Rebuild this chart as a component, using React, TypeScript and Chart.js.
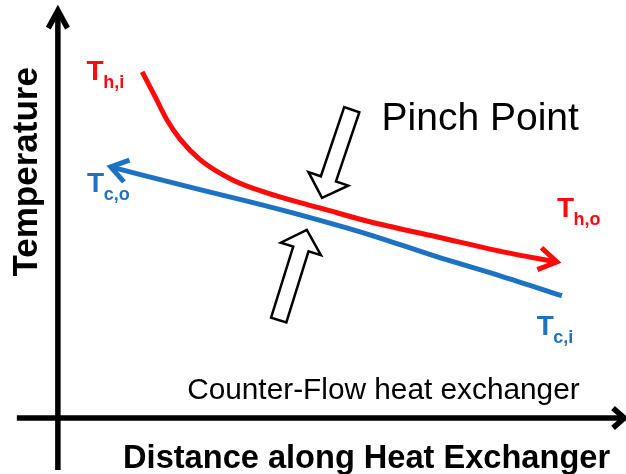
import React, { useEffect, useRef } from "react";
import { Chart, registerables } from "chart.js";

Chart.register(...registerables);

// ---- data (abstract units: distance 0..100, temperature 0..100) ----
const hotX = [15.0, 17.3, 19.4, 21.7, 25.3, 31.1, 37.2, 43.1, 46.6, 55.5, 67.4, 79.2, 88.8];
const hotY = [85.2, 79.1, 73.4, 68.7, 63.6, 58.6, 55.4, 53.0, 51.7, 48.3, 44.6, 40.9, 38.4];
const coldX = [9.4, 25.3, 34.2, 43.1, 55.5, 67.4, 78.7, 89.7];
const coldY = [61.8, 56.2, 53.2, 50.0, 45.1, 39.7, 35.0, 30.1];

// axis extents (data units)
const xAxisRange = [-7.3, 100.8];
const yAxisRange = [-12.8, 100.3];

// stream labels
const labelMain = ["T", "T", "T", "T"];
const labelSub = ["h,i", "c,o", "h,o", "c,i"];
const labelX = [5.1, 5.2, 88.8, 85.2];
const labelY = [83.3, 55.7, 49.5, 20.4];
const labelKind = ["hot", "cold", "hot", "cold"];

// pinch-point hollow arrows (tail -> tip)
const pinchTailX = [52.3, 39.3];
const pinchTailY = [75.9, 24.1];
const pinchTipX = [47.0, 44.3];
const pinchTipY = [54.2, 46.3];

// texts
const pinchText = "Pinch Point";
const pinchTextPos = [57.6, 70.9];
const subtitleText = "Counter-Flow heat exchanger";
const subtitlePos = [23.0, 4.7];
const xTitle = "Distance along Heat Exchanger";
const xTitlePos = [11.6, -12.3];
const yTitle = "Temperature";
const yTitlePos = [-3.8, 60.6];

const X_MIN = -10.3;
const X_MAX = 101.1;
const Y_MIN = -13.8;
const Y_MAX = 102.9;

const RED = "#ff0a0a";
const BLUE = "#1e72c2";
const FONT = "'Liberation Sans', Arial, Helvetica, sans-serif";

function chevron(ctx: CanvasRenderingContext2D, tx: number, ty: number, dx: number, dy: number, len: number, half: number) {
  const a = Math.atan2(dy, dx);
  ctx.beginPath();
  ctx.moveTo(tx - len * Math.cos(a - half), ty - len * Math.sin(a - half));
  ctx.lineTo(tx, ty);
  ctx.lineTo(tx - len * Math.cos(a + half), ty - len * Math.sin(a + half));
  ctx.stroke();
}

function hollowArrow(ctx: CanvasRenderingContext2D, x0: number, y0: number, x1: number, y1: number) {
  const shaftW = 16;
  const headW = 42;
  const headL = 20;
  const L = Math.hypot(x1 - x0, y1 - y0);
  const ux = (x1 - x0) / L;
  const uy = (y1 - y0) / L;
  const nx = -uy;
  const ny = ux;
  const bx = x1 - ux * headL;
  const by = y1 - uy * headL;
  ctx.beginPath();
  ctx.moveTo(x0 + nx * shaftW / 2, y0 + ny * shaftW / 2);
  ctx.lineTo(bx + nx * shaftW / 2, by + ny * shaftW / 2);
  ctx.lineTo(bx + nx * headW / 2, by + ny * headW / 2);
  ctx.lineTo(x1, y1);
  ctx.lineTo(bx - nx * headW / 2, by - ny * headW / 2);
  ctx.lineTo(bx - nx * shaftW / 2, by - ny * shaftW / 2);
  ctx.lineTo(x0 - nx * shaftW / 2, y0 - ny * shaftW / 2);
  ctx.closePath();
  ctx.fillStyle = "#ffffff";
  ctx.fill();
  ctx.lineWidth = 2.5;
  ctx.lineJoin = "miter";
  ctx.strokeStyle = "#000";
  ctx.stroke();
}

const diagramPlugin = {
  id: "diagram",
  afterDatasetsDraw(chart: any) {
    const ctx: CanvasRenderingContext2D = chart.ctx;
    const xs = chart.scales.x;
    const ys = chart.scales.y;
    const px = (v: number) => xs.getPixelForValue(v);
    const py = (v: number) => ys.getPixelForValue(v);
    ctx.save();

    // axes
    const ox = px(0);
    const oy = py(0);
    ctx.strokeStyle = "#000";
    ctx.lineWidth = 5.5;
    ctx.lineCap = "butt";
    ctx.lineJoin = "miter";
    ctx.beginPath();
    ctx.moveTo(px(xAxisRange[0]), oy);
    ctx.lineTo(px(xAxisRange[1]), oy);
    ctx.moveTo(ox, py(yAxisRange[0]));
    ctx.lineTo(ox, py(yAxisRange[1]));
    ctx.stroke();
    chevron(ctx, px(xAxisRange[1]), oy, 1, 0, 15, 0.72);
    chevron(ctx, ox, py(yAxisRange[1]), 0, -1, 20, 0.5);

    // line arrowheads
    const hot = chart.getDatasetMeta(0).data;
    const cold = chart.getDatasetMeta(1).data;
    ctx.lineWidth = 5;
    ctx.strokeStyle = RED;
    const hn = hot.length;
    chevron(ctx, hot[hn - 1].x, hot[hn - 1].y, hot[hn - 1].x - hot[hn - 2].x, hot[hn - 1].y - hot[hn - 2].y, 21, 0.56);
    ctx.strokeStyle = BLUE;
    chevron(ctx, cold[0].x, cold[0].y, cold[0].x - cold[1].x, cold[0].y - cold[1].y, 20, 0.6);

    // pinch arrows
    for (let i = 0; i < pinchTailX.length; i++) {
      hollowArrow(ctx, px(pinchTailX[i]), py(pinchTailY[i]), px(pinchTipX[i]), py(pinchTipY[i]));
    }

    // stream labels
    ctx.textAlign = "left";
    ctx.textBaseline = "alphabetic";
    for (let i = 0; i < labelMain.length; i++) {
      ctx.fillStyle = labelKind[i] === "hot" ? RED : BLUE;
      const x = px(labelX[i]);
      const y = py(labelY[i]);
      ctx.font = `bold 28px ${FONT}`;
      ctx.fillText(labelMain[i], x, y);
      const w = ctx.measureText(labelMain[i]).width;
      ctx.font = `bold 18px ${FONT}`;
      ctx.fillText(labelSub[i], x + w - 0.5, y + 8);
    }

    // texts
    ctx.fillStyle = "#000";
    ctx.font = `39px ${FONT}`;
    ctx.fillText(pinchText, px(pinchTextPos[0]), py(pinchTextPos[1]));
    ctx.font = `29.8px ${FONT}`;
    ctx.fillText(subtitleText, px(subtitlePos[0]), py(subtitlePos[1]));
    ctx.font = `bold 32.6px ${FONT}`;
    ctx.fillText(xTitle, px(xTitlePos[0]), py(xTitlePos[1]));

    ctx.save();
    ctx.translate(px(yTitlePos[0]), py(yTitlePos[1]));
    ctx.rotate(-Math.PI / 2);
    ctx.textAlign = "center";
    ctx.font = `bold 35px ${FONT}`;
    ctx.fillText(yTitle, 0, 0);
    ctx.restore();

    ctx.restore();
  },
};

export default function App() {
  const ref = useRef<HTMLCanvasElement>(null);
  useEffect(() => {
    const chart = new Chart(ref.current as HTMLCanvasElement, {
      type: "scatter",
      data: {
        datasets: [
          {
            label: "Hot stream",
            data: hotX.map((x, i) => ({ x, y: hotY[i] })),
            showLine: true,
            borderColor: RED,
            borderWidth: 5,
            pointRadius: 0,
            cubicInterpolationMode: "monotone",
            fill: false,
          },
          {
            label: "Cold stream",
            data: coldX.map((x, i) => ({ x, y: coldY[i] })),
            showLine: true,
            borderColor: BLUE,
            borderWidth: 5,
            pointRadius: 0,
            cubicInterpolationMode: "monotone",
            fill: false,
          },
        ],
      } as any,
      options: {
        responsive: false,
        devicePixelRatio: 1,
        animation: false,
        events: [],
        layout: { padding: 0 },
        plugins: {
          legend: { display: false },
          tooltip: { enabled: false },
          title: { display: false },
        },
        scales: {
          x: { type: "linear", display: false, min: X_MIN, max: X_MAX },
          y: { type: "linear", display: false, min: Y_MIN, max: Y_MAX },
        },
      } as any,
      plugins: [diagramPlugin],
    });
    return () => chart.destroy();
  }, []);
  return (
    <div style={{ position: "fixed", left: 0, top: 0, width: 626, height: 474, background: "#fff" }}>
      <canvas ref={ref} width={626} height={474} style={{ display: "block" }} />
    </div>
  );
}
